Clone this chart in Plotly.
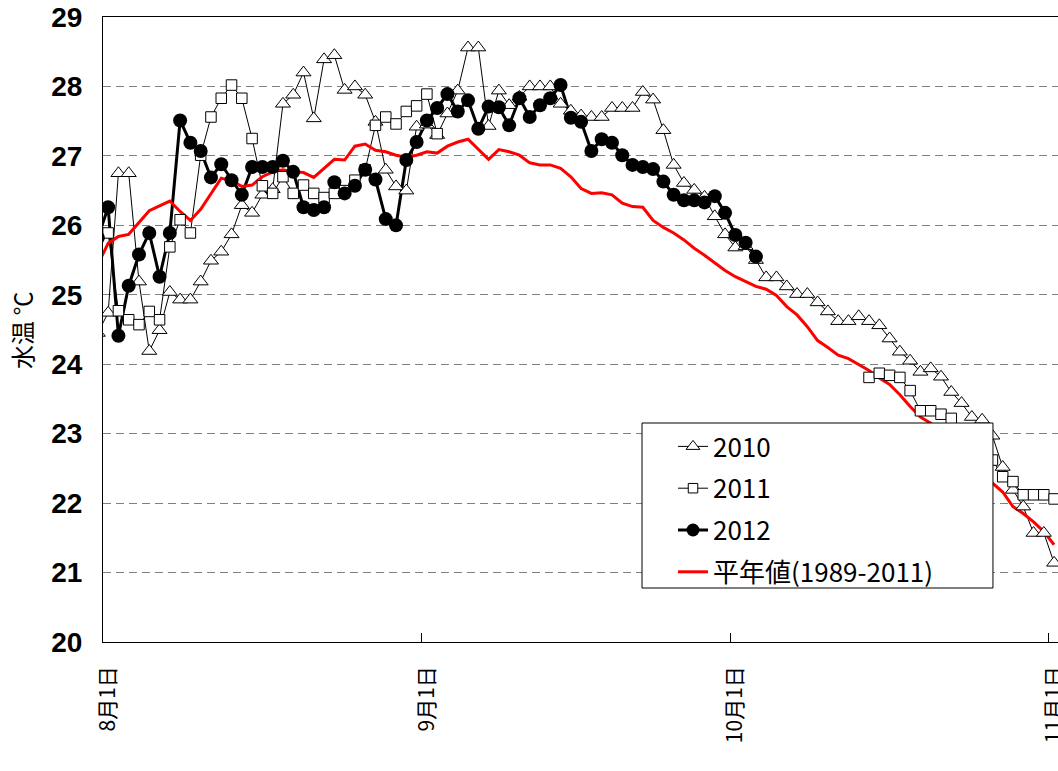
import pandas as pd
import plotly.graph_objects as go

# Day-by-day values, first entry = 7/31, last = 11/1
dates = pd.date_range("2012-07-31", "2012-11-01", freq="D")

t2010 = [24.45, 24.74, 26.75, 26.75, 25.19, 24.19, 24.49, 25.04, 24.93, 24.93,
         25.19, 25.49, 25.62, 25.87, 26.29, 26.18, 26.44, 26.52, 27.75, 27.88,
         28.20, 27.54, 28.39, 28.45, 27.95, 28.00, 27.88, 27.49, 26.80, 26.56,
         26.50, 27.42, 27.45, 27.30, 27.61, 27.94, 28.56, 28.56, 27.43, 27.94,
         27.73, 27.85, 28.00, 28.00, 28.00, 27.75, 27.65, 27.58, 27.56, 27.56,
         27.69, 27.69, 27.69, 27.92, 27.81, 27.37, 26.87, 26.61, 26.51, 26.41,
         26.13, 25.87, 25.68, 25.70, 25.50, 25.25, 25.25, 25.12, 25.01, 25.01,
         24.89, 24.76, 24.62, 24.62, 24.69, 24.62, 24.56, 24.37, 24.18, 24.05,
         23.89, 23.94, 23.82, 23.60, 23.44, 23.24, 23.20, 22.97, 22.52, 22.19,
         21.95, 21.57, 21.57, 21.14]

t2011 = [None, 25.89, 24.77, 24.64, 24.57, 24.76, 24.64, 25.69, 26.08, 25.89,
         27.01, 27.56, 27.83, 28.02, 27.83, 27.25, 26.57, 26.46, 26.70, 26.46,
         26.58, 26.46, 26.40, 26.46, 26.50, 26.65, 26.80, 27.44, 27.56, 27.46,
         27.64, 27.72, 27.89, 27.32] + [None] * 41 + [
         23.81, 23.87, 23.84, 23.81, 23.62, 23.33, 23.33, 23.28, 23.22, 23.05,
         22.90, 22.75, 22.62, 22.38, 22.31, 22.12, 22.12, 22.12, 22.06]

t2012 = [25.82, 26.26, 24.41, 25.13, 25.58, 25.89, 25.26, 25.89, 27.51, 27.19,
         27.07, 26.69, 26.88, 26.65, 26.44, 26.84, 26.84, 26.84, 26.93, 26.77,
         26.26, 26.22, 26.26, 26.62, 26.46, 26.57, 26.80, 26.66, 26.09, 26.00,
         26.94, 27.20, 27.51, 27.69, 27.89, 27.64, 27.80, 27.39, 27.71, 27.70,
         27.44, 27.83, 27.56, 27.73, 27.83, 28.02, 27.55, 27.49, 27.07, 27.24,
         27.19, 27.01, 26.87, 26.84, 26.81, 26.63, 26.44, 26.36, 26.36, 26.33,
         26.42, 26.18, 25.86, 25.75, 25.55] + [None] * 29

normal = [25.44, 25.74, 25.84, 25.87, 26.04, 26.21, 26.28, 26.35, 26.20, 26.07,
          26.23, 26.45, 26.68, 26.64, 26.56, 26.58, 26.70, 26.77, 26.80, 26.77,
          26.76, 26.69, 26.82, 26.95, 26.94, 27.14, 27.17, 27.08, 27.06, 27.01,
          26.98, 27.01, 27.06, 27.04, 27.14, 27.20, 27.24, 27.09, 26.95, 27.09,
          27.06, 27.01, 26.90, 26.87, 26.87, 26.82, 26.70, 26.53, 26.46, 26.47,
          26.44, 26.32, 26.27, 26.26, 26.07, 25.97, 25.89, 25.79, 25.67, 25.57,
          25.46, 25.35, 25.26, 25.19, 25.12, 25.08, 24.99, 24.83, 24.71, 24.54,
          24.34, 24.24, 24.13, 24.08, 24.00, 23.91, 23.80, 23.71, 23.56, 23.39,
          23.24, 23.15, 23.00, 22.85, 22.70, 22.55, 22.42, 22.29, 22.16, 21.95,
          21.85, 21.73, 21.59, 21.40]

names = ["2010", "2011", "2012", "平年値(1989-2011)"]
tick_dates = ["2012-08-01", "2012-09-01", "2012-10-01", "2012-11-01"]
tick_text = ["8月1日", "9月1日", "10月1日", "11月1日"]
y_ticks = list(range(20, 30))

# each daily value sits in the middle of its day slot
xs = dates + pd.Timedelta(hours=12)
label_pos = [pd.Timestamp(d) + pd.Timedelta(hours=12) for d in tick_dates]

JP = "Noto Sans CJK JP"
fig = go.Figure()

series = [
    (t2010, dict(color="black", width=1), dict(symbol="triangle-up", size=13, color="white", line=dict(color="black", width=1))),
    (t2011, dict(color="black", width=1), dict(symbol="square", size=10.5, color="white", line=dict(color="black", width=1))),
    (t2012, dict(color="black", width=3), dict(symbol="circle", size=14, color="black", line=dict(color="black", width=0))),
]

# lines first (all series), then markers on top, like the original chart
for vals, ln, mk in series:
    fig.add_trace(go.Scatter(x=xs, y=vals, mode="lines", line=ln, showlegend=False,
                             hoverinfo="skip", connectgaps=False))
fig.add_trace(go.Scatter(x=xs, y=normal, mode="lines", line=dict(color="#ff0000", width=3),
                         showlegend=False, hoverinfo="skip"))
for vals, ln, mk in series:
    fig.add_trace(go.Scatter(x=xs, y=vals, mode="markers", marker=mk, showlegend=False))

# legend entries
for i, (vals, ln, mk) in enumerate(series):
    fig.add_trace(go.Scatter(x=[None], y=[None], mode="lines+markers", line=ln,
                             marker={**mk, "size": mk["size"] - 1},
                             name=names[i], legendgroup=names[i]))
fig.add_trace(go.Scatter(x=[None], y=[None], mode="lines", line=dict(color="#ff0000", width=3),
                         name=names[3], legendgroup=names[3]))

x_range = ["2012-08-01 00:00", "2012-11-01 21:06"]

fig.update_layout(
    width=1058, height=771,
    margin=dict(l=103, r=0, t=17, b=129, autoexpand=False),
    paper_bgcolor="white", plot_bgcolor="white",
    font=dict(family="Liberation Sans", color="black"),
    showlegend=True,
    legend=dict(x=0.5644, y=0.3504, xanchor="left", yanchor="top",
                bgcolor="rgba(0,0,0,0)", borderwidth=0,
                font=dict(family=JP, size=26, color="black"),
                tracegroupgap=5, indentation=31, traceorder="grouped"),
    xaxis=dict(type="date", range=x_range, tickvals=tick_dates, showticklabels=False,
               ticks="inside", ticklen=9, tickcolor="black", tickwidth=1,
               showline=True, linecolor="black", linewidth=1, mirror=True,
               showgrid=False, zeroline=False, automargin=False),
    xaxis2=dict(type="date", range=x_range, overlaying="x", anchor="y", side="bottom",
                tickvals=label_pos, ticktext=tick_text, tickangle=-90, ticks="",
                tickfont=dict(family=JP, size=21, color="black"), ticklabelstandoff=19,
                ticklabeloverflow="allow", automargin=False,
                showline=False, showgrid=False, zeroline=False),
    yaxis=dict(range=[20, 29], tickvals=y_ticks, ticks="",
               tickfont=dict(family="Liberation Sans", size=28, color="black", weight="bold"),
               ticklabelstandoff=14, automargin=False,
               showline=True, linecolor="black", linewidth=1,
               showgrid=True, gridcolor="#808080", gridwidth=1, griddash="8px,5px",
               zeroline=False),
    shapes=[dict(type="rect", xref="paper", yref="paper",
                 x0=0.5644, x1=0.9319, y0=0.0864, y1=0.3504,
                 line=dict(color="black", width=1), fillcolor="white", layer="above")],
    annotations=[dict(text="水温 ℃", xref="paper", yref="paper", x=-0.0859, y=0.4992,
                      xanchor="center", yanchor="middle", textangle=-90, showarrow=False,
                      font=dict(family=JP, size=24, color="black"))],
)
# dummy trace so that xaxis2 is rendered
fig.add_trace(go.Scatter(x=[None], y=[None], xaxis="x2", showlegend=False, hoverinfo="skip"))

fig.write_html("out.html", config={"displayModeBar": False},
               post_script="document.body.style.margin='0px';")
